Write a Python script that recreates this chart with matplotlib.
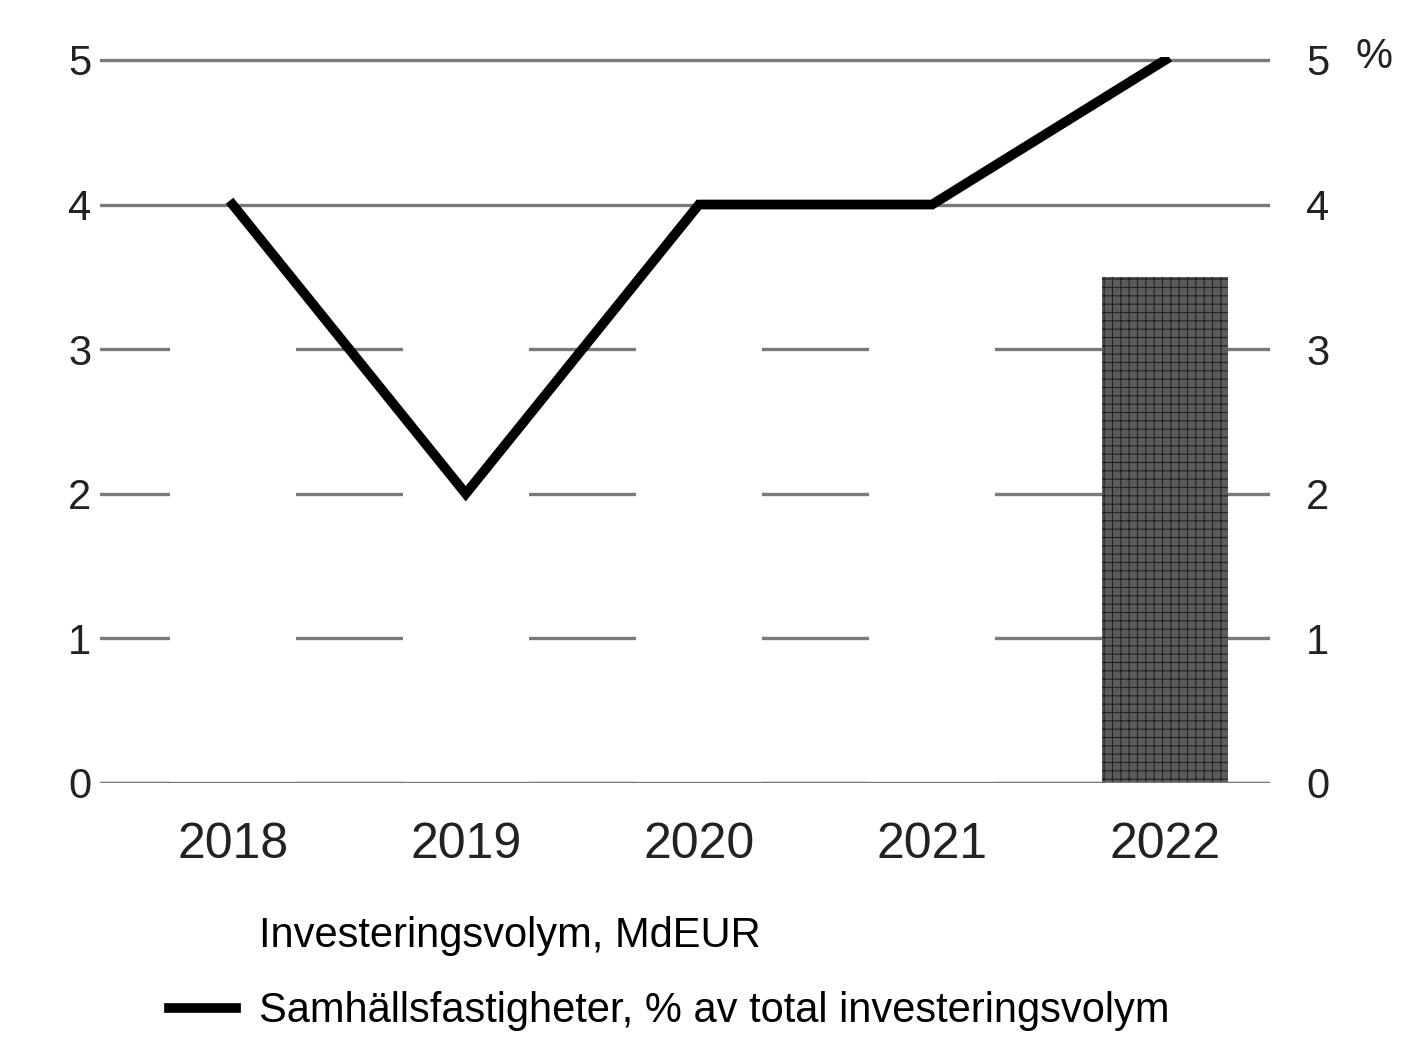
import matplotlib.pyplot as plt

plt.rcParams['font.family'] = ['Liberation Sans', 'DejaVu Sans']
plt.rcParams['hatch.linewidth'] = 0.8

# Data
years = ['2018', '2019', '2020', '2021', '2022']
volym = [3.7, 3.9, 3.6, 3.8, 3.5]          # MdEUR (white bars except 2022)
andel = [4, 2, 4, 4, 5]                    # % of total investment volume
bar_colors = ['white', 'white', 'white', 'white', '#5c5c5c']
yticks = [0, 1, 2, 3, 4, 5]

fig = plt.figure(figsize=(14.24, 10.37), dpi=100)
ax = fig.add_axes([0.070, 0.245, 0.822, 0.700])
ax2 = ax.twinx()

x = range(len(years))

# Bars (left axis)
ax.set_axisbelow(True)
ax.yaxis.grid(True, color='#7a7a7a', linewidth=2.4, linestyle='-')
bars = ax.bar(x, volym, width=0.54, color=bar_colors, linewidth=0,
              label='Investeringsvolym, MdEUR', zorder=2)
bars[-1].set_hatch('++')
bars[-1].set_edgecolor('#222222')
ax.axhline(0, color='#7a7a7a', linewidth=2.4, zorder=2.5)

# Line (right axis)
ax2.plot(x, andel, color='black', linewidth=7, solid_joinstyle='miter',
         label='Samhällsfastigheter, % av total investeringsvolym', zorder=3)

for a in (ax, ax2):
    a.set_ylim(0, 5.02)
    a.set_yticks(yticks)
    for s in a.spines.values():
        s.set_visible(False)
    a.tick_params(length=0, labelsize=30, colors='#222222')

ax.set_xlim(-0.57, 4.45)
ax.set_xticks(list(x))
ax.set_xticklabels(years, fontsize=36)
ax.tick_params(axis='x', pad=28)
ax.tick_params(axis='y', pad=6)
ax2.tick_params(axis='y', pad=26)

ax2.text(1.073, 1.0, '%', transform=ax2.transAxes, fontsize=30,
         ha='left', va='center', color='#222222')

# Legend below the chart
h1, l1 = ax.get_legend_handles_labels()
h2, l2 = ax2.get_legend_handles_labels()
fig.legend(h1 + h2, l1 + l2, loc='upper left', bbox_to_anchor=(0.107, 0.133),
           frameon=False, fontsize=30, handlelength=1.6, handletextpad=0.55,
           labelspacing=0.85, borderaxespad=0)

plt.savefig('out.png', dpi=100)
